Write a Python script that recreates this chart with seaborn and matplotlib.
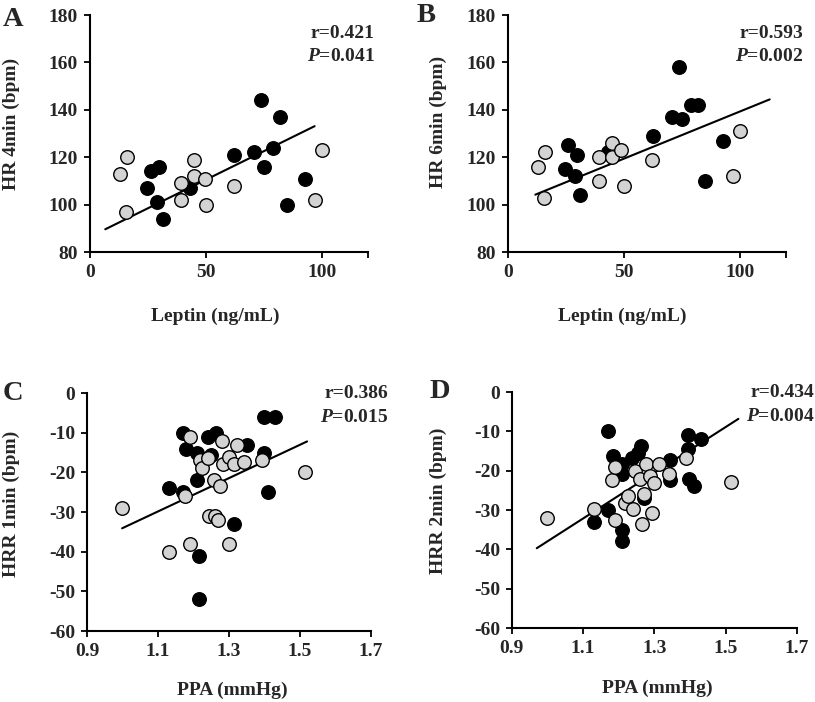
import matplotlib
matplotlib.use("Agg")
import matplotlib.pyplot as plt
import seaborn as sns
import numpy as np
import pandas as pd

# ---------------- data ----------------
# Panel A: Leptin vs HR 4min
a_black_x = [26.5, 30, 24.7, 29, 31.5, 43, 62.4, 71, 74, 75, 79, 82, 85, 93]
a_black_y = [114, 116, 107, 101, 94, 107, 121, 122, 144, 116, 124, 137, 100, 111]
a_gray_x = [13, 16, 15.5, 39.5, 39.5, 45, 45, 49.5, 50, 62, 100, 97]
a_gray_y = [113, 120, 97, 109, 102, 119, 112, 111, 100, 108, 123, 102]
a_line_x = [6.6, 97]
a_line_y = [89.6, 133.1]

# Panel B: Leptin vs HR 6min
b_black_x = [26, 30, 24.5, 29, 31, 43, 62.5, 71, 74, 75, 79, 82, 85, 93]
b_black_y = [125, 121, 115, 112, 104, 122, 129, 137, 158, 136, 142, 142, 110, 127]
b_gray_x = [13, 16, 15.5, 39.5, 39.5, 45, 45, 49, 50, 62, 100, 97]
b_gray_y = [116, 122, 103, 110, 120, 126, 120, 123, 108, 119, 131, 112]
b_line_x = [11.8, 113]
b_line_y = [104.2, 144.4]

# Panel C: PPA vs HRR 1min
c_black_x = [1.13, 1.17, 1.17, 1.18, 1.21, 1.21, 1.215, 1.215, 1.24, 1.264,
             1.248, 1.35, 1.313, 1.40, 1.43, 1.40, 1.41]
c_black_y = [-24, -25, -10, -14, -15, -22, -41, -52, -11, -10,
             -15.6, -13, -33, -6, -6, -15, -25]
c_gray_x = [1.00, 1.13, 1.19, 1.175, 1.19, 1.217, 1.224, 1.243, 1.26, 1.27,
            1.24, 1.257, 1.276, 1.28, 1.283, 1.30, 1.313, 1.324, 1.343, 1.30,
            1.393, 1.515]
c_gray_y = [-29, -40, -38, -26, -11, -17, -19, -31, -31, -32,
            -16.5, -22, -23.5, -12, -18, -16, -18, -13, -17.5, -38,
            -17, -20]
c_line_x = [0.999, 1.52]
c_line_y = [-34.1, -12.2]

# Panel D: PPA vs HRR 2min
d_black_x = [1.13, 1.17, 1.184, 1.17, 1.208, 1.21, 1.21, 1.208, 1.236, 1.253,
             1.264, 1.27, 1.344, 1.344, 1.395, 1.397, 1.41, 1.43, 1.395]
d_black_y = [-33, -10, -16.3, -30, -20.7, -18.3, -35, -37.8, -16.7, -15.5,
             -13.8, -27, -17.2, -22.4, -11, -22, -24, -12, -14.4]
d_gray_x = [1.00, 1.13, 1.18, 1.19, 1.19, 1.217, 1.225, 1.24, 1.245, 1.26,
            1.266, 1.27, 1.278, 1.287, 1.30, 1.294, 1.313, 1.34, 1.39, 1.515]
d_gray_y = [-32, -29.6, -22.4, -19, -32.5, -28.3, -26.5, -29.6, -20, -22,
            -33.6, -25.8, -18.2, -21.4, -23.2, -30.7, -18.3, -20.9, -16.7, -22.8]
d_line_x = [0.97, 1.536]
d_line_y = [-39.7, -6.8]

panel_letters = ["A", "B", "C", "D"]
y_labels = ["HR 4min (bpm)", "HR 6min (bpm)", "HRR 1min (bpm)", "HRR 2min (bpm)"]
x_labels = ["Leptin (ng/mL)", "Leptin (ng/mL)", "PPA (mmHg)", "PPA (mmHg)"]
r_texts = ["r=0.421", "r=0.593", "r=0.386", "r=0.434"]
p_texts = ["0.041", "0.002", "0.015", "0.004"]

leptin_xticks = [0, 50, 100]
hr_yticks = [80, 100, 120, 140, 160, 180]
ppa_xticks = [0.9, 1.1, 1.3, 1.5, 1.7]
hrr_yticks = [-60, -50, -40, -30, -20, -10, 0]

# ---------------- style ----------------
sns.set_style("white")
plt.rcParams["font.family"] = ["Liberation Serif", "DejaVu Serif"]
plt.rcParams["font.weight"] = "bold"
plt.rcParams["axes.unicode_minus"] = False
plt.rcParams["mathtext.fontset"] = "custom"
plt.rcParams["mathtext.rm"] = "Liberation Serif:bold"
plt.rcParams["mathtext.it"] = "Liberation Serif:italic:bold"
plt.rcParams["mathtext.bf"] = "Liberation Serif:bold"

fig = plt.figure(figsize=(8.15, 7.02), dpi=100)

rects = [
    [0.1104, 0.641, 0.341, 0.3376],
    [0.6233, 0.641, 0.341, 0.3376],
    [0.1067, 0.1011, 0.3485, 0.339],
    [0.628, 0.1054, 0.3497, 0.336],
]

panels = [
    (a_black_x, a_black_y, a_gray_x, a_gray_y, a_line_x, a_line_y),
    (b_black_x, b_black_y, b_gray_x, b_gray_y, b_line_x, b_line_y),
    (c_black_x, c_black_y, c_gray_x, c_gray_y, c_line_x, c_line_y),
    (d_black_x, d_black_y, d_gray_x, d_gray_y, d_line_x, d_line_y),
]

text_x = [1.025, 1.061, 1.06, 1.063]
text_y_r = [0.924, 0.924, 1.0, 1.0]
text_y_p = [0.823, 0.823, 0.899, 0.898]
ylabel_pos = [(-0.252, 0.542), (-0.219, 0.55), (-0.236, 0.536), (-0.228, 0.538)]
xlabel_pos = [(0.45, -0.27), (0.41, -0.27), (0.51, -0.248), (0.509, -0.254)]
letter_pos = [(3, 19), (417, 16), (3, 393), (430, 392)]

fs = 14
for i, (bx, by, gx, gy, lx, ly) in enumerate(panels):
    ax = fig.add_axes(rects[i])
    sns.lineplot(x=lx, y=ly, ax=ax, color="black", lw=1.5, zorder=2)
    sns.scatterplot(x=bx, y=by, ax=ax, color="black", edgecolor="black",
                    s=95, linewidth=1.0, zorder=3)
    sns.scatterplot(x=gx, y=gy, ax=ax, color="#d3d3d3", edgecolor="black",
                    s=95, linewidth=1.0, zorder=4)
    if i < 2:
        ax.set_xlim(0, 120)
        ax.set_ylim(80, 180)
        ax.set_xticks(leptin_xticks)
        ax.set_xticks([120], minor=True)
        ax.set_yticks(hr_yticks)
    else:
        ax.set_xlim(0.9, 1.7)
        ax.set_ylim(-60, 0)
        ax.set_xticks(ppa_xticks)
        ax.set_xticklabels([f"{v:.1f}" for v in ppa_xticks])
        ax.set_yticks(hrr_yticks)
        ax.set_yticklabels([str(v) for v in hrr_yticks])
    for side in ["top", "right"]:
        ax.spines[side].set_visible(False)
    for side in ["left", "bottom"]:
        ax.spines[side].set_color("black")
        ax.spines[side].set_linewidth(1.5)
    ax.tick_params(axis="both", which="both", direction="out", length=4.5,
                   width=1.3, color="black", labelsize=fs, pad=4,
                   bottom=True, left=True)
    for lab in ax.get_xticklabels() + ax.get_yticklabels():
        lab.set_fontweight("bold")
    ax.set_ylabel(y_labels[i], fontsize=fs, fontweight="bold")
    ax.yaxis.set_label_coords(*ylabel_pos[i])
    ax.set_xlabel(x_labels[i], fontsize=fs, fontweight="bold")
    ax.xaxis.set_label_coords(*xlabel_pos[i])
    ax.xaxis.label.set_va("center")
    ax.text(text_x[i], text_y_r[i], r_texts[i], transform=ax.transAxes,
            ha="right", va="center", fontsize=fs, fontweight="bold")
    ax.text(text_x[i], text_y_p[i], r"$\mathit{P}$=" + p_texts[i],
            transform=ax.transAxes, ha="right", va="center", fontsize=fs,
            fontweight="bold")
    lxp, lyp = letter_pos[i]
    fig.text(lxp / 815, 1 - lyp / 702, panel_letters[i], ha="left",
             va="center", fontsize=20.5, fontweight="bold")

fig.savefig("out.png", dpi=100)
